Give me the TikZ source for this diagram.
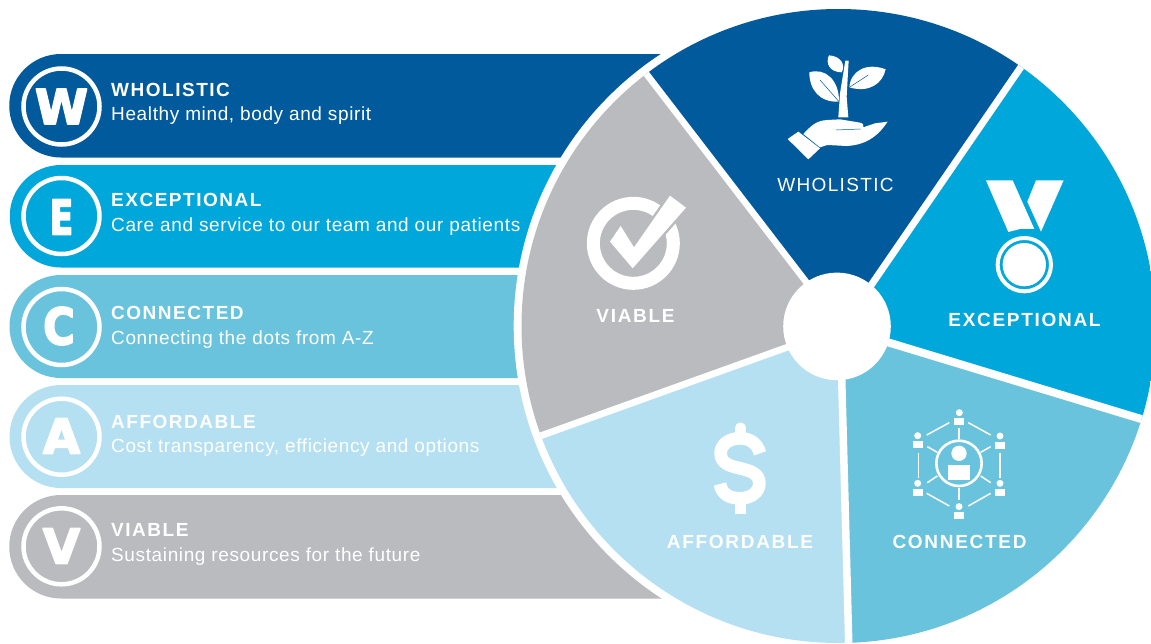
\documentclass[tikz,border=0pt]{standalone}
\usepackage{fontspec}
\setmainfont{Liberation Sans}
\newfontfamily\subfont[LetterSpace=3.3]{Liberation Sans}
\newfontfamily\headfont[LetterSpace=8]{Liberation Sans Bold}
\newfontfamily\wheelreg[LetterSpace=7]{Liberation Sans}
\newfontfamily\wheelbold[LetterSpace=9]{Liberation Sans Bold}
\newfontfamily\letterfont{DejaVu Sans Bold}
\definecolor{cW}{HTML}{005A9C}
\definecolor{cE}{HTML}{00A7DB}
\definecolor{cC}{HTML}{69C3DD}
\definecolor{cA}{HTML}{B5E0F2}
\definecolor{cV}{HTML}{BABBBE}
\newcommand{\heavy}[1]{\special{pdf:code q 2 Tr 1.8 w 1 1 1 RG 1 j}#1\special{pdf:code Q}}
\tikzset{
  barhead/.style={anchor=base west,inner sep=0pt,text=white,font=\headfont\fontsize{19}{19}\selectfont},
  barsub/.style={anchor=base west,inner sep=0pt,text=white,font=\subfont\fontsize{19}{19}\selectfont},
  wheellabel/.style={inner sep=0pt,text=white,anchor=base,font=\wheelbold\fontsize{19}{19}\selectfont},
  ring/.style={draw=white,line width=4.5pt,fill=none},
  letter/.style={inner sep=0pt,text=white,font=\letterfont\fontsize{48}{48}\selectfont},
  icon/.style={fill=white,draw=none},
  wire/.style={draw=white,line width=1.5pt}
}
\newcommand{\barshape}[3]{% colour, top, bottom
  \fill[#1] (800,#2) -- (61,#2) arc[start angle=-90,end angle=-270,radius={(#3-#2)/2}] -- (800,#3) -- cycle;}
\newcommand{\smallperson}[2]{%
  \fill[white] (#1,#2-15) circle[radius=10.5];
  \fill[white] (#1-15,#2+2) -- (#1+15,#2+2) -- (#1+15,#2+23) -- (#1-15,#2+23) -- cycle;}
\begin{document}
\begin{tikzpicture}[x=1pt,y=-1pt]
\useasboundingbox (0,0) rectangle (1151,643);
\clip (0,0) rectangle (1151,643);
\fill[white] (0,0) rectangle (1151,643);
% bars
\barshape{cW}{54}{157.5}
\barshape{cE}{165}{267.5}
\barshape{cC}{275}{378}
\barshape{cA}{385}{488}
\barshape{cV}{495}{598.5}
% bar badges
\draw[ring] (61.5,106.5) circle[radius=38];
\draw[ring] (61.5,216) circle[radius=38];
\draw[ring] (61.5,327) circle[radius=38];
\draw[ring] (61.5,436.7) circle[radius=38];
\draw[ring] (61.5,546.3) circle[radius=38];
\node[letter] (letW) at (61.5,106.5) {\heavy{W}};
\node[letter] (letE) at (61.5,217) {\scalebox{.72}[1]{\heavy{E}}};
\node[letter] (letC) at (59,326) {\scalebox{.9}[1.05]{\heavy{C}}};
\node[letter] (letA) at (61.5,436) {\heavy{A}};
\node[letter] (letV) at (61.5,546) {\heavy{V}};
% bar texts
\node[barhead] (h1) at (111,96) {WHOLISTIC};
\node[barsub]  (s1) at (111,120) {Healthy mind, body and spirit};
\node[barhead] (h2) at (111,206.5) {EXCEPTIONAL};
\node[barsub]  (s2) at (111,231) {Care and service to our team and our patients};
\node[barhead] (h3) at (111,319.5) {CONNECTED};
\node[barsub]  (s3) at (111,344.5) {Connecting the dots from A-Z};
\node[barhead] (h4) at (111,428) {AFFORDABLE};
\node[barsub]  (s4) at (111,452) {Cost transparency, efficiency and options};
\node[barhead] (h5) at (111,536.5) {VIABLE};
\node[barsub]  (s5) at (111,561) {Sustaining resources for the future};
% wheel
\fill[white] (838.5,326) circle[radius=324.8];
\begin{scope}
  \clip (838.5,326) circle[radius=317];
  \fill[cW] (838,327) -- (632.4,55.7) -- (700,-100) -- (950,-100) -- (1036.8,43.9) -- cycle;
  \fill[cE] (838,327) -- (1036.8,43.9) -- (1300,40) -- (1300,430) -- (1160,424.7) -- cycle;
  \fill[cC] (838,327) -- (1160,424.7) -- (1200,700) -- (849.2,660) -- cycle;
  \fill[cA] (838,327) -- (849.2,660) -- (500,700) -- (510,446.8) -- cycle;
  \fill[cV] (838,327) -- (510,446.8) -- (400,300) -- (500,50) -- (632.4,55.7) -- cycle;
  \draw[white,line width=7pt] (843.1,326) -- (1036.8,43.9);
  \draw[white,line width=8pt] (837,326.85) -- (1160,424.7);
  \draw[white,line width=7.5pt] (840.3,326) -- (849.2,660);
  \draw[white,line width=6.7pt] (837,329.4) -- (510,446.8);
  \draw[white,line width=6.5pt] (840,326) -- (632.4,55.7);
\end{scope}
\fill[white] (837,326.4) circle[radius=53.8];
% wheel labels
\node[wheellabel,font=\wheelreg\fontsize{19}{19}\selectfont] (lW) at (835.5,191) {WHOLISTIC};
\node[wheellabel] (lE) at (1024.5,326) {EXCEPTIONAL};
\node[wheellabel] (lC) at (959.5,548) {CONNECTED};
\node[wheellabel] (lA) at (740,548) {AFFORDABLE};
\node[wheellabel] (lV) at (635.5,322) {VIABLE};
% plant and hand icon, medal icon
\begin{scope}[shift={(740,30)},x=.3333pt,y=-.3333pt]
  \fill[icon] (316,92) -- (326,92) -- (320,200) -- (325,262) -- (295,262) -- (300,190) -- cycle;
  \fill[icon] (208,127) .. controls (255,112) and (298,150) .. (297,215) .. controls (240,218) and (208,180) .. (208,127);
  \draw[cW,line width=.5pt] (240,150) -- (297,215);
  \fill[icon] (437,118) .. controls (380,96) and (332,122) .. (328,172) .. controls (388,190) and (428,160) .. (437,118);
  \draw[cW,line width=.5pt] (328,172) -- (385,135);
  \fill[icon] (267,76) .. controls (302,78) and (318,105) .. (305,127) .. controls (270,127) and (255,100) .. (267,76);
  \fill[icon] (190,312) .. controls (215,285) and (230,272) .. (262,270) -- (300,268) -- (360,278) .. controls (370,280) and (372,286) .. (370,292) -- (405,280) -- (443,275) .. controls (420,310) and (385,345) .. (320,348) -- (262,345) -- (240,352) -- cycle;
  \draw[cW,line width=.5pt] (288,300) -- (362,297);
  \fill[icon] (143,327) -- (175,305) -- (240,355) -- (205,388) -- cycle;
  % medal
  \fill[icon] (738,451) -- (818,451) -- (883,597) -- (840,597) -- (805,606) -- cycle;
  \fill[icon] (888,451) -- (971,451) -- (903,605) -- (862,515) -- cycle;
  \draw[white,line width=4pt] (853,704) circle[radius=80];
  \fill[icon] (853,704) circle[radius=65];
\end{scope}
% network icon
\begin{scope}[shift={(880,390)},x=.3333pt,y=-.3333pt]
  \draw[white,line width=2.6pt] (237,220) circle[radius=68];
  \fill[icon] (237,190) circle[radius=23];
  \fill[icon] (205,225) -- (270,225) -- (270,270) -- (205,270) -- cycle;
  \smallperson{238}{83}
  \smallperson{360}{153}
  \smallperson{360}{295}
  \smallperson{237}{365}
  \smallperson{113}{295}
  \smallperson{113}{152}
  \foreach \xa/\ya/\xb/\yb in {140/135/208/98,265/98/332/135,360/188/360/265,115/188/115/265,265/348/332/310,140/310/208/348,237/115/237/147,237/295/237/330,142/170/172/187,332/170/302/187,142/278/172/258,332/278/302/258}{
    \draw[wire] (\xa,\ya) -- (\xb,\yb);
  }
\end{scope}
% check icon
\begin{scope}[shift={(560,170)},x=.3333pt,y=-.3333pt]
  \draw[white,line width=13pt] (220,220) circle[radius=120];
  \draw[cV,line width=5pt,line join=miter] (150,215) -- (182,168) -- (222,232) -- (330,77) -- (378,113) -- (218,295) -- cycle;
  \fill[icon] (150,215) -- (182,168) -- (222,232) -- (330,77) -- (378,113) -- (218,295) -- cycle;
\end{scope}
% dollar icon
\begin{scope}[shift={(640,410)},x=.3333pt,y=-.3333pt]
  \draw[white,line width=12.7pt] (360,130) .. controls (352,100) and (330,85) .. (300,85) .. controls (265,85) and (242,105) .. (242,130) .. controls (242,160) and (270,168) .. (300,175) .. controls (330,182) and (358,190) .. (358,220) .. controls (358,245) and (335,265) .. (300,265) .. controls (265,265) and (245,250) .. (240,222);
  \draw[white,line width=10.5pt,line cap=round] (301,53) -- (301,80);
  \draw[white,line width=10.5pt] (301,260) -- (301,312);
\end{scope}
\end{tikzpicture}
\end{document}
